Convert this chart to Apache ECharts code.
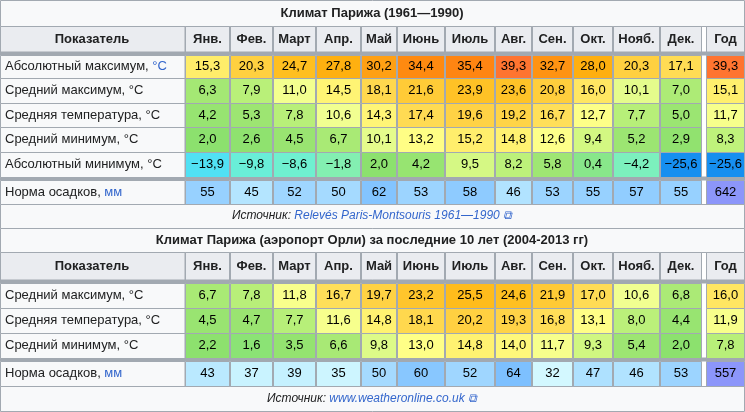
<!DOCTYPE html><html><head><meta charset="utf-8"><script src="https://cdn.jsdelivr.net/npm/echarts@6/dist/echarts.min.js"></script>
<style>html,body{margin:0;background:#fff}#c{width:745px;height:412px}</style></head><body><div id="c"></div><script>
const months=['Янв.','Фев.','Март','Апр.','Май','Июнь','Июль','Авг.','Сен.','Окт.','Нояб.','Дек.','Год'];
const title1='Климат Парижа (1961—1990)';
const title2='Климат Парижа (аэропорт Орли) за последние 10 лет (2004-2013 гг)';
const src1=['Источник: ','Relevés Paris-Montsouris 1961—1990'];
const src2=['Источник: ','www.weatheronline.co.uk'];
const rows1=['Абсолютный максимум, ','Средний максимум, °C','Средняя температура, °C','Средний минимум, °C','Абсолютный минимум, °C'];
const absMax1=[15.3,20.3,24.7,27.8,30.2,34.4,35.4,39.3,32.7,28.0,20.3,17.1,39.3];
const avgMax1=[6.3,7.9,11.0,14.5,18.1,21.6,23.9,23.6,20.8,16.0,10.1,7.0,15.1];
const mean1=[4.2,5.3,7.8,10.6,14.3,17.4,19.6,19.2,16.7,12.7,7.7,5.0,11.7];
const avgMin1=[2.0,2.6,4.5,6.7,10.1,13.2,15.2,14.8,12.6,9.4,5.2,2.9,8.3];
const absMin1=[-13.9,-9.8,-8.6,-1.8,2.0,4.2,9.5,8.2,5.8,0.4,-4.2,-25.6,-25.6];
const precip1=[55,45,52,50,62,53,58,46,53,55,57,55,642];
const avgMax2=[6.7,7.8,11.8,16.7,19.7,23.2,25.5,24.6,21.9,17.0,10.6,6.8,16.0];
const mean2=[4.5,4.7,7.7,11.6,14.8,18.1,20.2,19.3,16.8,13.1,8.0,4.4,11.9];
const avgMin2=[2.2,1.6,3.5,6.6,9.8,13.0,14.8,14.0,11.7,9.3,5.4,2.0,7.8];
const precip2=[43,37,39,35,50,60,52,64,32,47,46,53,557];
const rows2=['Средний максимум, °C','Средняя температура, °C','Средний минимум, °C'];

// layout
const colE=[185,230,273,316,361,397,445,495,532,573,613,660,702];const yearX=[706,745];
function colRect(j){return j<12?[colE[j],colE[j+1]]:yearX;}
const tRows1=[[55,78],[78,103],[103,127],[127,152],[152,177]],pRow1=[180,204];
const tRows2=[[283,308],[308,333],[333,358]],pRow2=[361,386];
const tStops=[[-26,[20,140,240]],[-14,[80,225,245]],[-9,[110,240,210]],[-2,[130,240,180]],[2,[140,225,110]],[6,[160,230,115]],[9,[200,245,125]],[10.5,[240,255,145]],[13,[255,255,135]],[15,[255,240,110]],[17,[255,220,85]],[21,[255,205,60]],[25,[255,190,30]],[28,[255,175,15]],[31,[255,155,20]],[35,[255,135,15]],[39.5,[255,115,50]]];
const pStops=[[30,[215,250,255]],[40,[195,240,255]],[50,[165,218,255]],[64,[125,192,255]]];
function interp(st,v){if(v<=st[0][0])return st[0][1];for(let i=1;i<st.length;i++){if(v<=st[i][0]){const a=st[i-1],b=st[i],t=(v-a[0])/(b[0]-a[0]);return a[1].map((x,k)=>Math.round(x+(b[1][k]-x)*t));}}return st[st.length-1][1];}
const rgb=c=>'rgb('+c.join(',')+')';
const fmt=v=>(v<0?'−':'')+Math.abs(v).toFixed(1).replace('.',',');
const data=[];
[absMax1,avgMax1,mean1,avgMin1,absMin1].forEach((r,i)=>r.forEach((v,j)=>data.push({value:[j,v],y:tRows1[i],t:'T'})));
precip1.forEach((v,j)=>data.push({value:[j,v],y:pRow1,t:'P'}));
[avgMax2,mean2,avgMin2].forEach((r,i)=>r.forEach((v,j)=>data.push({value:[j,v],y:tRows2[i],t:'T'})));
precip2.forEach((v,j)=>data.push({value:[j,v],y:pRow2,t:'P'}));
const F='Liberation Sans, Arial, sans-serif';
const g=[];
function txt(x,y,s,o){g.push(Object.assign({type:'text',x,y,style:Object.assign({text:s,fontFamily:F,fontSize:13,fill:'#202122',textVerticalAlign:'middle'},o||{})}));}
function rect(x,y,w,h,fill,stroke){g.push({type:'rect',shape:{x,y,width:w,height:h},style:{fill,stroke:stroke||'#a2a9b1',lineWidth:1}});}
rect(0.5,0.5,744,26,'#f8f9fa');rect(0.5,228.5,744,24,'#f8f9fa');
rect(0.5,204.5,744,24,'#f8f9fa');rect(0.5,386.5,744,25,'#f8f9fa');
txt(372,13,title1,{textAlign:'center',fontWeight:'bold'});
txt(372,240,title2,{textAlign:'center',fontWeight:'bold'});
function srcLine(y,s){g.push({type:'text',x:372,y,style:{text:'{a|'+s[0]+'}{b|'+s[1]+' ⧉}',textAlign:'center',textVerticalAlign:'middle',rich:{a:{fontFamily:F,fontSize:12,fontStyle:'italic',fill:'#202122'},b:{fontFamily:F,fontSize:12,fontStyle:'italic',fill:'#3366cc'}}}});}
srcLine(216,src1);srcLine(399,src2);
function header(y0,y1){rect(0.5,y0+0.5,184.5,y1-y0,'#eaecf0');txt(92,(y0+y1)/2,'Показатель',{textAlign:'center',fontWeight:'bold'});
 months.forEach((m,j)=>{const c=colRect(j);rect(c[0]+0.5,y0+0.5,c[1]-c[0]-1,y1-y0,'#eaecf0');txt((c[0]+c[1])/2,(y0+y1)/2,m,{textAlign:'center',fontWeight:'bold'});});}
header(26,52);header(252,280);
rect(0,52,745,3,'#a2a9b1');rect(0,177,745,3,'#a2a9b1');rect(0,280,745,3,'#a2a9b1');rect(0,358,745,3,'#a2a9b1');
function labels(rows,rs){rows.forEach((s,i)=>{const r=rs[i];rect(0.5,r[0]+0.5,184.5,r[1]-r[0],'#f8f9fa');
 if(s.endsWith(', '))g.push({type:'text',x:5,y:(r[0]+r[1])/2,style:{text:'{a|'+s+'}{b|°C}',textVerticalAlign:'middle',rich:{a:{fontFamily:F,fontSize:13,fill:'#202122'},b:{fontFamily:F,fontSize:13,fill:'#3366cc'}}}});
 else txt(5,(r[0]+r[1])/2,s);});}
labels(rows1,tRows1);labels(rows2,tRows2);
[pRow1,pRow2].forEach(r=>{rect(0.5,r[0]+0.5,184.5,r[1]-r[0],'#f8f9fa');g.push({type:'text',x:5,y:(r[0]+r[1])/2,style:{text:'{a|Норма осадков, }{b|мм}',textVerticalAlign:'middle',rich:{a:{fontFamily:F,fontSize:13,fill:'#202122'},b:{fontFamily:F,fontSize:13,fill:'#3366cc'}}}});});
const ch=echarts.init(document.getElementById('c'),null,{renderer:'canvas'});
ch.setOption({animation:false,graphic:{elements:g},series:[{type:'custom',coordinateSystem:'none',data,z:10,
 renderItem:(p,api)=>{const d=data[p.dataIndex];const j=api.value(0),v=api.value(1);const c=colRect(j);
  let fill;if(d.t==='T')fill=rgb(interp(tStops,v));else fill=j===12?'rgb(140,150,250)':rgb(interp(pStops,v));
  return {type:'group',children:[{type:'rect',shape:{x:c[0]+0.5,y:d.y[0]+0.5,width:c[1]-c[0]-1,height:d.y[1]-d.y[0]},style:{fill,stroke:'#a2a9b1',lineWidth:1}},
   {type:'text',x:(c[0]+c[1])/2,y:(d.y[0]+d.y[1])/2,style:{text:d.t==='T'?fmt(v):String(v),fontFamily:F,fontSize:13,fill:'#000',textAlign:'center',textVerticalAlign:'middle'}}]};}}]});
</script></body></html>
